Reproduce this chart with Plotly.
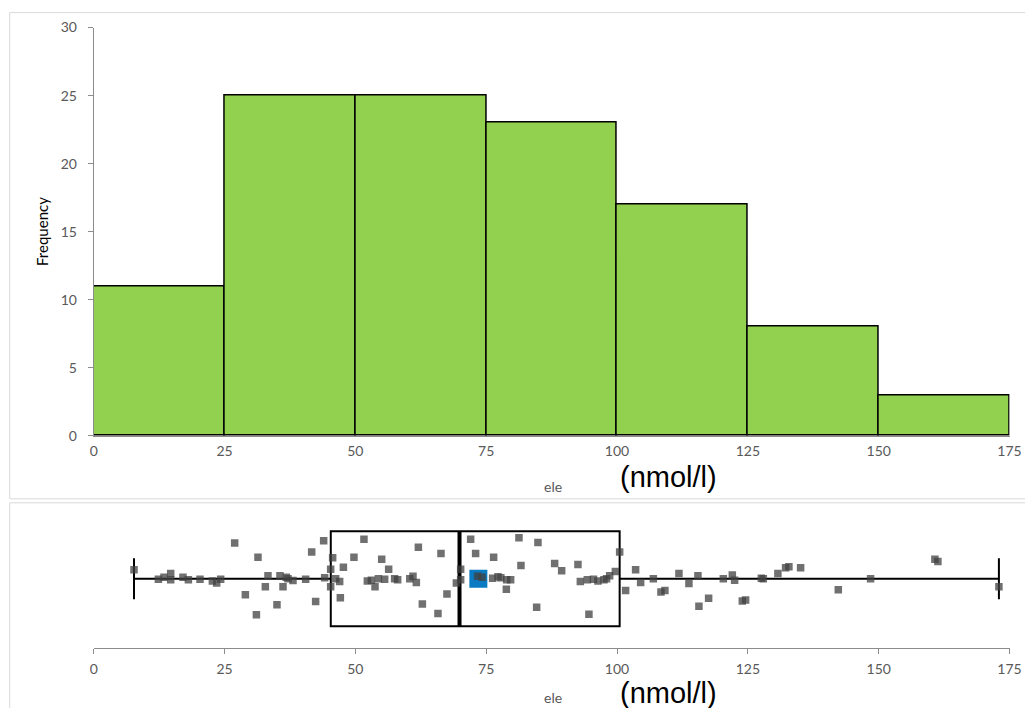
import plotly.graph_objects as go

# ---------------- data ----------------
bin_edges = [0, 25, 50, 75, 100, 125, 150, 175]
frequencies = [11, 25, 25, 23, 17, 8, 3]

# individual observations (nmol/l) and their vertical jitter (box half-height = 1)
values = [
    7.7, 12.36, 13.43, 14.71, 14.71, 17.06, 18.09, 20.31, 22.68, 23.50, 24.26,
    26.94, 28.98, 31.09, 31.39, 32.80, 33.30, 35.02, 35.59, 36.17, 36.8, 37.12, 38.08,
    40.50, 41.65, 42.41, 43.94, 44.13, 45.28, 45.28, 45.66, 46.24, 47.00, 47.13, 47.71, 49.73,
    51.64, 52.29, 53.06, 53.75, 54.40, 55.03, 55.60, 56.36, 57.5, 58.08, 60.4, 61.01, 61.65,
    62.04, 62.80, 65.78, 66.36, 67.50, 69.30, 70.12, 70.12, 72.03, 72.98, 73.37, 74.2,
    76.23, 76.42, 77.25, 77.8, 78.85, 78.91, 79.67, 81.26, 81.64, 84.64, 84.89, 88.08, 89.42,
    92.53, 92.99, 94.33, 94.63, 95.5, 96.35, 97.50, 98.0, 98.59, 99.68,
    100.50, 101.64, 103.55, 104.51, 106.94, 108.39, 109.15, 111.83, 113.74, 115.46, 115.65,
    117.50, 120.31, 122.03, 122.47, 123.94, 124.57,
    127.57, 127.95, 130.74, 132.21, 132.84, 135.08, 142.28, 148.45,
    160.74, 161.31, 172.97,
]
jitter = [
    0.19, -0.01, 0.03, 0.11, -0.02, 0.03, -0.02, -0.01, -0.05, -0.09, -0.01,
    0.75, -0.34, -0.76, 0.45, -0.17, 0.06, -0.55, 0.06, -0.17, 0.03, 0.00, -0.04,
    -0.01, 0.56, -0.48, 0.80, 0.02, 0.20, -0.17, 0.44, 0.00, -0.06, -0.40, 0.24, 0.45,
    0.83, -0.05, -0.03, -0.17, 0.00, 0.41, -0.01, 0.20, 0.00, -0.02, 0.00, 0.05, -0.08,
    0.66, -0.53, -0.73, 0.53, -0.32, -0.09, 0.20, -0.02, 0.83, 0.53, 0.05, 0.03,
    0.01, 0.45, 0.04, 0.02, -0.22, -0.02, -0.02, 0.86, 0.28, -0.60, 0.76, 0.32, 0.17,
    0.30, -0.06, -0.02, -0.75, -0.01, -0.05, -0.02, 0.00, 0.06, 0.15,
    0.56, -0.25, 0.19, -0.08, 0.00, -0.28, -0.25, 0.11, -0.10, 0.06, -0.58,
    -0.41, 0.00, 0.08, -0.03, -0.47, -0.45,
    0.01, 0.00, 0.11, 0.23, 0.25, 0.23, -0.23, 0.00,
    0.41, 0.36, -0.17,
]

q1 = 45.3
median = 69.9
q3 = 100.5
minimum = 7.7
maximum = 172.97
mean = 73.5

x_ticks = [0, 25, 50, 75, 100, 125, 150, 175]
y_ticks = [0, 5, 10, 15, 20, 25, 30]

# ---------------- figure ----------------
W, H = 1033, 708
FONT = "Lato, 'Open Sans', sans-serif"
ARIAL = "'Liberation Sans', Arial, sans-serif"
TICKC = "#595959"
AXC = "#8C8C8C"

# the captured picture is slightly offset / scaled from figure pixels;
# these helpers map a wanted picture position to figure-paper coordinates
SX, CX = 0.9847, 3.4
SY, CY = 0.9775, 7.6
OFF = 8


def px_x(p):
    return ((p - CX) / SX - OFF) / W


def px_y(p):
    return 1 - ((p - CY) / SY - OFF) / H


fig = go.Figure()

mids = [(bin_edges[i] + bin_edges[i + 1]) / 2 for i in range(len(frequencies))]
widths = [bin_edges[i + 1] - bin_edges[i] for i in range(len(frequencies))]
fig.add_trace(go.Bar(
    x=mids, y=frequencies, width=widths,
    marker=dict(color="#92D050", line=dict(color="#000000", width=1.5)),
    xaxis="x", yaxis="y", showlegend=False,
))

fig.add_trace(go.Box(
    q1=[q1], median=[median], q3=[q3], lowerfence=[minimum], upperfence=[maximum],
    y=[0], orientation="h", width=2, whiskerwidth=0.43,
    fillcolor="rgba(0,0,0,0)", line=dict(color="#000000", width=2),
    boxpoints=False, xaxis="x2", yaxis="y2", showlegend=False,
))
fig.add_trace(go.Scatter(
    x=[median, median], y=[-1, 1], mode="lines",
    line=dict(color="#000000", width=4),
    xaxis="x2", yaxis="y2", showlegend=False,
))
fig.add_trace(go.Scatter(
    x=[mean], y=[0], mode="markers",
    marker=dict(symbol="square", size=18, color="#0A7BC2"),
    xaxis="x2", yaxis="y2", showlegend=False,
))
fig.add_trace(go.Scatter(
    x=values, y=jitter, mode="markers",
    marker=dict(symbol="square", size=7.5, color="rgba(64,64,64,0.75)"),
    xaxis="x2", yaxis="y2", showlegend=False,
))

xdom = [px_x(93), px_x(1009)]
axis_common = dict(
    tickfont=dict(family=FONT, size=14, color=TICKC),
    showgrid=False, zeroline=False,
)

# open panel frames (their right / bottom sides lie outside the picture)
xl = px_x(9)
t_top, t_bot = px_y(11), px_y(498)
b_top = px_y(502)
frame_top = f"M 1,{t_bot} L {xl},{t_bot} L {xl},{t_top} L 1,{t_top}"
frame_bot = f"M {xl},0 L {xl},{b_top} L 1,{b_top}"


def label(text, x, y, font, angle=0):
    return dict(text=text, xref="paper", yref="paper", x=px_x(x), y=px_y(y),
                xanchor="center", yanchor="middle", textangle=angle,
                showarrow=False, font=font)


fig.update_layout(
    width=W, height=H,
    margin=dict(l=0, r=0, t=0, b=0),
    paper_bgcolor="white", plot_bgcolor="white",
    bargap=0,
    xaxis=dict(domain=xdom, range=[0, 175], tickvals=x_ticks, showline=True,
               linecolor=AXC, linewidth=1, ticks="", anchor="y",
               ticklabelstandoff=2, **axis_common),
    yaxis=dict(domain=[px_y(435), px_y(26)], range=[0, 30], tickvals=y_ticks,
               showline=True, linecolor=AXC, linewidth=1, ticks="outside",
               ticklen=5, tickcolor=AXC, anchor="x", ticklabelstandoff=8,
               **axis_common),
    xaxis2=dict(domain=xdom, range=[0, 175], tickvals=x_ticks, showline=True,
                linecolor=AXC, linewidth=1, ticks="outside", ticklen=5,
                tickcolor=AXC, anchor="y2", ticklabelstandoff=4, **axis_common),
    yaxis2=dict(domain=[px_y(647), px_y(509)], range=[-1.45, 1.45],
                visible=False, anchor="x2"),
    shapes=[
        dict(type="path", xref="paper", yref="paper", path=frame_top,
             line=dict(color="#D9D9D9", width=1)),
        dict(type="path", xref="paper", yref="paper", path=frame_bot,
             line=dict(color="#D9D9D9", width=1)),
    ],
    annotations=[
        label("Frequency", 42, 230, dict(family=FONT, size=15, color="#000000"), -90),
        label("ele", 552, 486, dict(family=FONT, size=14, color=TICKC)),
        label("(nmol/l)", 668, 476, dict(family=ARIAL, size=29, color="#000000")),
        label("ele", 552, 697, dict(family=FONT, size=14, color=TICKC)),
        label("(nmol/l)", 668, 692, dict(family=ARIAL, size=29, color="#000000")),
    ],
)

fig.write_html("out.html")
